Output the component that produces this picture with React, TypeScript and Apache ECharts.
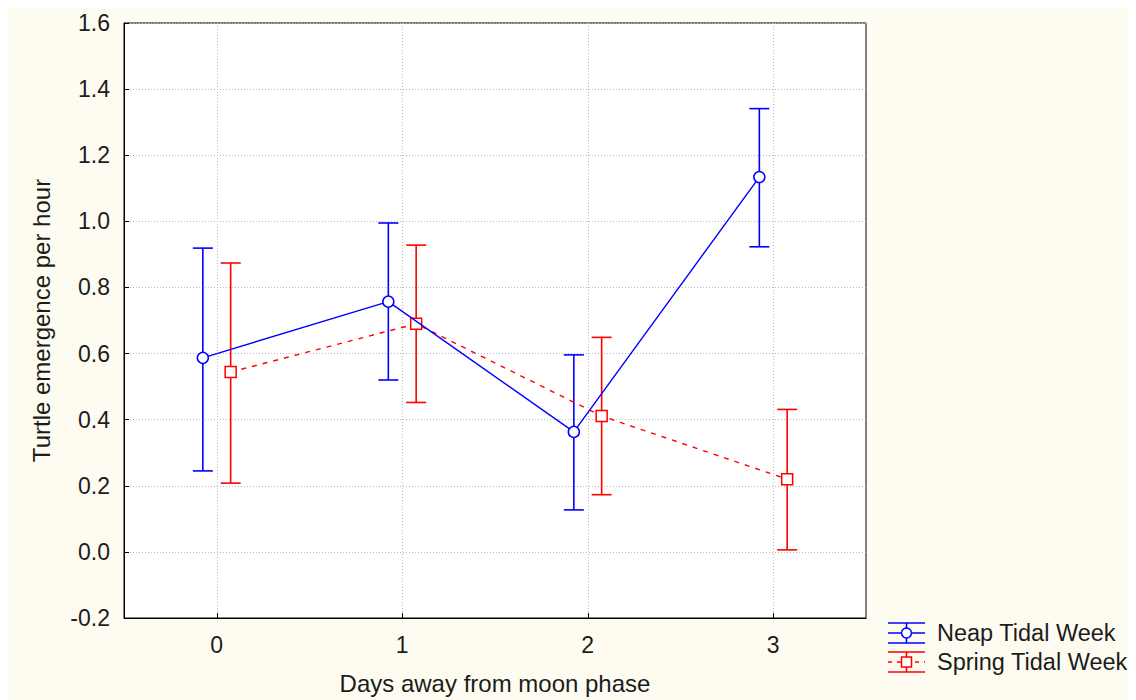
import { useEffect, useRef } from "react";
import * as echarts from "echarts";

// Days away from moon phase
const days = [0, 1, 2, 3];
const dayTicks = [0, 1, 2, 3];

// Neap Tidal Week: mean and error bar limits
const neapMean = [0.587, 0.757, 0.363, 1.134];
const neapLow = [0.245, 0.52, 0.127, 0.923];
const neapHigh = [0.919, 0.995, 0.596, 1.341];

// Spring Tidal Week: mean and error bar limits
const springMean = [0.544, 0.69, 0.411, 0.22];
const springLow = [0.208, 0.452, 0.173, 0.006];
const springHigh = [0.874, 0.928, 0.649, 0.431];

const NEAP = "#0000ff";
const SPRING = "#ff0000";
const DODGE = 0.075;

export default function App() {
  const ref = useRef<HTMLDivElement>(null);

  useEffect(() => {
    document.documentElement.style.overflow = "hidden";
    document.body.style.overflow = "hidden";
    const chart = echarts.init(ref.current!, null, { renderer: "svg" });
    const font = "'Liberation Sans', Arial, sans-serif";
    const textColor = "#1c1c1c";

    const errSeries = (name: string, color: string, off: number, low: number[], high: number[]) => ({
      type: "custom",
      name,
      z: 2,
      silent: true,
      data: days.map((d, i) => [d + off, low[i], high[i]]),
      encode: { x: 0, y: [1, 2] },
      renderItem: (_params: any, api: any) => {
        const x = api.value(0);
        const lo = api.coord([x, api.value(1)]);
        const hi = api.coord([x, api.value(2)]);
        const w = 10;
        const style = { stroke: color, lineWidth: 1.6, fill: "none" };
        return {
          type: "group",
          children: [
            { type: "line", shape: { x1: lo[0], y1: lo[1], x2: hi[0], y2: hi[1] }, style },
            { type: "line", shape: { x1: hi[0] - w, y1: hi[1], x2: hi[0] + w, y2: hi[1] }, style },
            { type: "line", shape: { x1: lo[0] - w, y1: lo[1], x2: lo[0] + w, y2: lo[1] }, style },
          ],
        };
      },
    });

    const legendItem = (y: number, color: string, label: string, marker: "circle" | "rect", dashed: boolean) => {
      const x0 = 880;
      const x1 = 917;
      const cx = (x0 + x1) / 2;
      const style = { stroke: color, lineWidth: 1.6, fill: "none" };
      const children: any[] = [
        { type: "line", shape: { x1: x0, y1: y - 10, x2: x1, y2: y - 10 }, style },
        { type: "line", shape: { x1: x0, y1: y + 10, x2: x1, y2: y + 10 }, style },
        { type: "line", shape: { x1: cx, y1: y - 10, x2: cx, y2: y + 10 }, style },
        {
          type: "line",
          shape: { x1: x0, y1: y, x2: x1, y2: y },
          style: { ...style, lineDash: dashed ? [4, 5] : null },
        },
        marker === "circle"
          ? { type: "circle", shape: { cx, cy: y, r: 5 }, style: { stroke: color, lineWidth: 1.5, fill: "#fff" } }
          : { type: "rect", shape: { x: cx - 5, y: y - 5, width: 10, height: 10 }, style: { stroke: color, lineWidth: 1.5, fill: "#fff" } },
        {
          type: "text",
          x: 929,
          y,
          style: { text: label, font: `23.5px ${font}`, fill: textColor, textVerticalAlign: "middle" },
        },
      ];
      return { type: "group", children };
    };

    chart.setOption({
      animation: false,
      backgroundColor: "#fefcf1",
      textStyle: { fontFamily: font },
      grid: {
        left: 116,
        top: 15,
        right: 270,
        bottom: 82,
        show: true,
        backgroundColor: "#ffffff",
        borderColor: "#000000",
        borderWidth: 1,
      },
      xAxis: {
        type: "value",
        min: -0.5,
        max: 3.5,
        name: "Days away from moon phase",
        nameLocation: "middle",
        nameGap: 53,
        nameTextStyle: { fontSize: 24, color: textColor, fontFamily: font },
        axisLine: { show: true, onZero: false, lineStyle: { color: "#000", width: 1 } },
        axisTick: { show: true, inside: true, length: 5, customValues: dayTicks, lineStyle: { color: "#000" } },
        axisLabel: {
          customValues: dayTicks,
          fontSize: 23,
          color: textColor,
          margin: 15,
          formatter: (v: number) => String(v),
        },
        splitLine: { show: true, lineStyle: { color: "#b8b8b8", type: [1, 2], width: 1 } },
      },
      yAxis: {
        type: "value",
        min: -0.2,
        max: 1.6,
        interval: 0.2,
        name: "Turtle emergence per hour",
        nameLocation: "middle",
        nameGap: 71,
        nameTextStyle: { fontSize: 24, color: textColor, fontFamily: font },
        axisLine: { show: true, onZero: false, lineStyle: { color: "#000", width: 1 } },
        axisTick: { show: true, inside: true, length: 5, lineStyle: { color: "#000" } },
        axisLabel: {
          fontSize: 23,
          color: textColor,
          margin: 14,
          formatter: (v: number) => v.toFixed(1),
        },
        splitLine: { show: true, lineStyle: { color: "#b8b8b8", type: [1, 2], width: 1 } },
      },
      series: [
        errSeries("Spring Tidal Week err", SPRING, DODGE, springLow, springHigh),
        errSeries("Neap Tidal Week err", NEAP, -DODGE, neapLow, neapHigh),
        {
          type: "line",
          name: "Spring Tidal Week",
          z: 3,
          data: days.map((d, i) => [d + DODGE, springMean[i]]),
          symbol: "rect",
          symbolSize: 11,
          color: SPRING,
          itemStyle: { color: "#ffffff", borderColor: SPRING, borderWidth: 1.5 },
          lineStyle: { color: SPRING, width: 1.4, type: [5, 6] },
        },
        {
          type: "line",
          name: "Neap Tidal Week",
          z: 4,
          data: days.map((d, i) => [d - DODGE, neapMean[i]]),
          symbol: "circle",
          symbolSize: 11,
          color: NEAP,
          itemStyle: { color: "#ffffff", borderColor: NEAP, borderWidth: 1.5 },
          lineStyle: { color: NEAP, width: 1.4 },
        },
      ],
      graphic: [
        legendItem(625, NEAP, "Neap Tidal Week", "circle", false),
        legendItem(654, SPRING, "Spring Tidal Week", "rect", true),
      ],
    });

    return () => chart.dispose();
  }, []);

  return <div ref={ref} style={{ width: 1128, height: 692 }} />;
}
